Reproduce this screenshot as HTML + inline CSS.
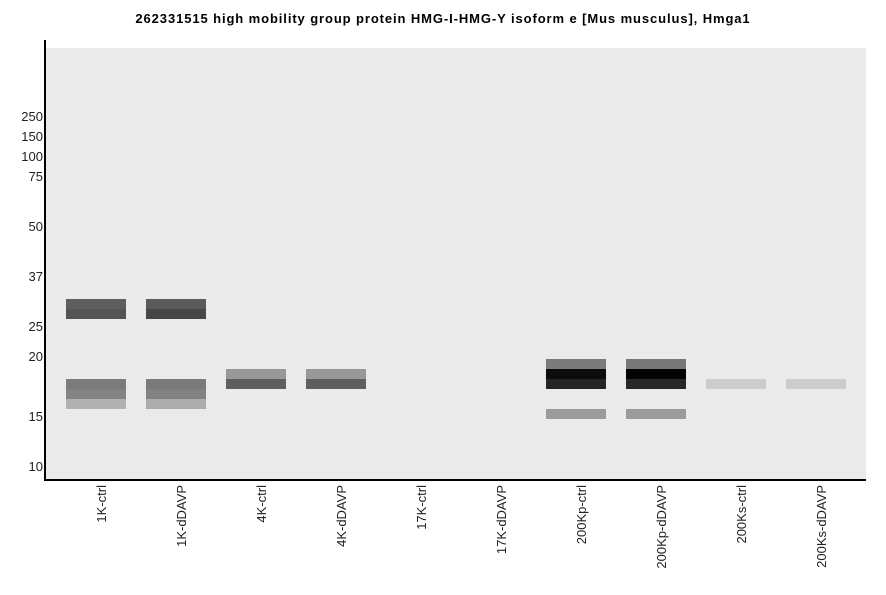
<!DOCTYPE html><html><head><style>
body{margin:0;width:886px;height:595px;background:#fff;position:relative;font-family:"Liberation Sans",sans-serif;overflow:hidden}
.t{position:absolute;top:11px;left:0;width:886px;text-align:center;font-size:13px;letter-spacing:0.9px;font-weight:bold;color:#000}
.bg{position:absolute;left:46px;top:48px;width:820px;height:431px;background:#e9eae9}
.ax{position:absolute;background:#000}
.y{position:absolute;right:843px;font-size:13px;color:#222;line-height:14px}
.b{position:absolute;width:60px;height:10px}
.x{position:absolute;top:485px;font-size:13px;color:#222;writing-mode:vertical-rl;transform:rotate(180deg);line-height:14px}
</style></head><body>
<div class="t">262331515 high mobility group protein HMG-I-HMG-Y isoform e [Mus musculus], Hmga1</div>
<div class="bg"></div>
<div class="ax" style="left:44px;top:40px;width:2px;height:441px"></div>
<div class="ax" style="left:44px;top:479px;width:822px;height:2px"></div>
<div class="y" style="top:110px">250</div><div class="y" style="top:130px">150</div><div class="y" style="top:150px">100</div><div class="y" style="top:170px">75</div><div class="y" style="top:220px">50</div><div class="y" style="top:270px">37</div><div class="y" style="top:320px">25</div><div class="y" style="top:350px">20</div><div class="y" style="top:410px">15</div><div class="y" style="top:460px">10</div>
<div class="b" style="left:66px;top:299px;background:#5e5e5e"></div><div class="b" style="left:66px;top:309px;background:#545454"></div>
<div class="b" style="left:66px;top:379px;background:#7b7b7b"></div><div class="b" style="left:66px;top:389px;background:#838383"></div><div class="b" style="left:66px;top:399px;background:#b1b1b1"></div>
<div class="b" style="left:146px;top:299px;background:#5a5a5a"></div><div class="b" style="left:146px;top:309px;background:#474747"></div>
<div class="b" style="left:146px;top:379px;background:#7a7a7a"></div><div class="b" style="left:146px;top:389px;background:#828282"></div><div class="b" style="left:146px;top:399px;background:#adadad"></div>
<div class="b" style="left:226px;top:369px;background:#989898"></div><div class="b" style="left:226px;top:379px;background:#5e5e5e"></div>
<div class="b" style="left:306px;top:369px;background:#989898"></div><div class="b" style="left:306px;top:379px;background:#5e5e5e"></div>
<div class="b" style="left:546px;top:359px;background:#7b7b7b"></div><div class="b" style="left:546px;top:369px;background:#0c0c0c"></div><div class="b" style="left:546px;top:379px;background:#252525"></div><div class="b" style="left:546px;top:409px;background:#9b9b9b"></div>
<div class="b" style="left:626px;top:359px;background:#777"></div><div class="b" style="left:626px;top:369px;background:#030303"></div><div class="b" style="left:626px;top:379px;background:#282828"></div><div class="b" style="left:626px;top:409px;background:#9b9b9b"></div>
<div class="b" style="left:706px;top:379px;background:#cdcdcd"></div><div class="b" style="left:786px;top:379px;background:#cdcdcd"></div>
<div class="x" style="left:95px">1K-ctrl</div><div class="x" style="left:175px">1K-dDAVP</div><div class="x" style="left:255px">4K-ctrl</div><div class="x" style="left:335px">4K-dDAVP</div><div class="x" style="left:415px">17K-ctrl</div><div class="x" style="left:495px">17K-dDAVP</div><div class="x" style="left:575px">200Kp-ctrl</div><div class="x" style="left:655px">200Kp-dDAVP</div><div class="x" style="left:735px">200Ks-ctrl</div><div class="x" style="left:815px">200Ks-dDAVP</div>
</body></html>
